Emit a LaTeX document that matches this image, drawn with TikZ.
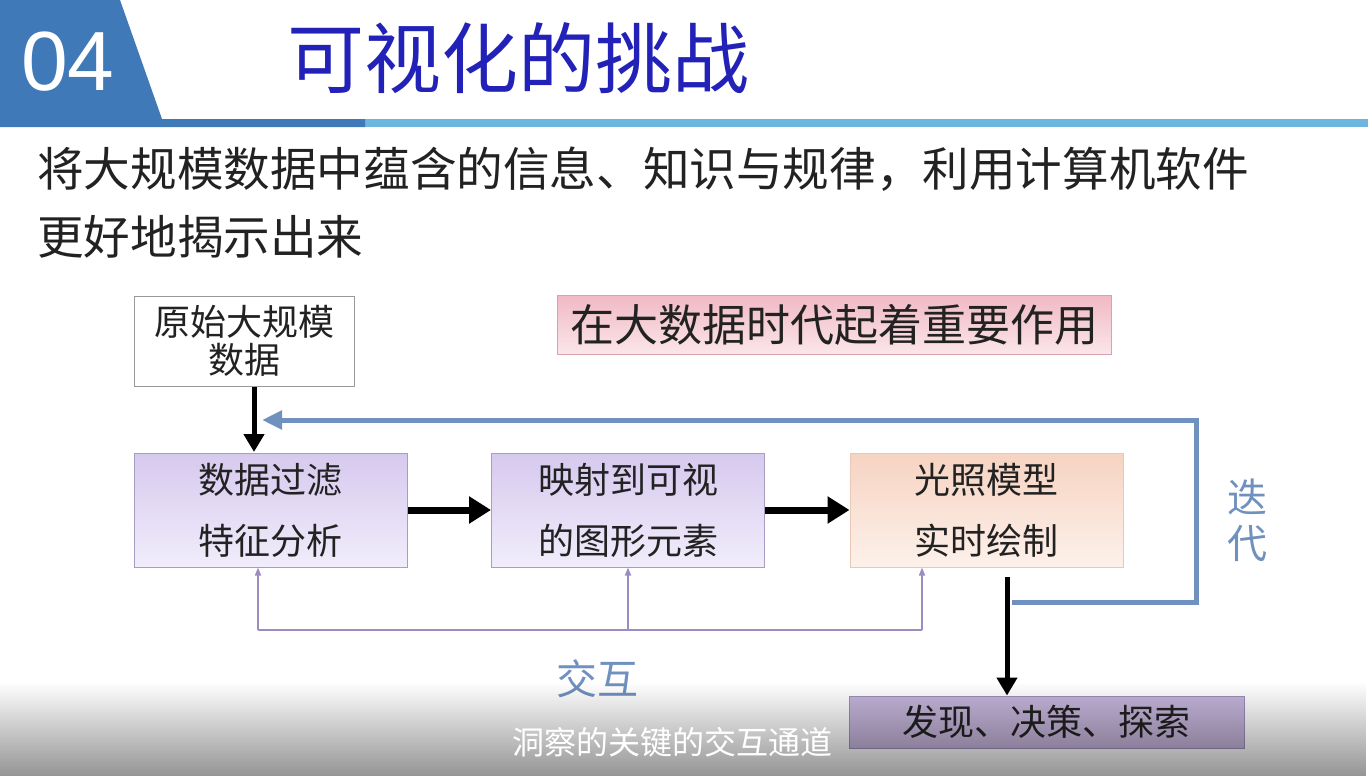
\documentclass[tikz,border=0pt]{standalone}
\usepackage{fontspec}
\setmainfont{Noto Sans CJK SC}
\newfontfamily\numfont{Liberation Sans}
\usetikzlibrary{arrows.meta,fadings}
\definecolor{hdrblue}{HTML}{3F79B8}
\definecolor{hdrlight}{HTML}{6CB6DF}
\definecolor{titleblue}{HTML}{2222B8}
\definecolor{loopblue}{HTML}{7090BE}
\definecolor{lavtop}{HTML}{D6C9EE}
\definecolor{lavbot}{HTML}{F1EDFB}
\definecolor{lavedge}{HTML}{A89CC6}
\definecolor{peachtop}{HTML}{F6D3C2}
\definecolor{peachbot}{HTML}{FDF1EA}
\definecolor{peachedge}{HTML}{EBC7B5}
\definecolor{pinktop}{HTML}{F0B9C4}
\definecolor{pinkbot}{HTML}{FBE6EA}
\definecolor{pinkedge}{HTML}{D8A3AE}
\definecolor{discfill}{HTML}{C6B6DC}
\definecolor{discedge}{HTML}{9E8FBA}
\definecolor{interline}{HTML}{9C8CC2}
\definecolor{textdark}{HTML}{222222}
\tikzset{
  x=1pt, y=-1pt,
  procbox/.style={draw=lavedge, line width=1pt, top color=lavtop, bottom color=lavbot, minimum width=273pt, minimum height=114pt, inner sep=0pt},
  bigarrow/.style={line width=7pt, -{Triangle[length=22pt,width=26pt]}},
  downarrow/.style={line width=5pt, -{Triangle[length=18pt,width=20pt]}},
  thinarrow/.style={interline, line width=1.6pt, -{Triangle[length=8pt,width=6pt]}},
  boxtext/.style={font=\fontsize{36}{61}\selectfont, text=textdark, align=center},
}
\begin{document}
\begin{tikzpicture}
\useasboundingbox (0,0) rectangle (1368,776);
\fill[white] (0,0) rectangle (1368,776);
% header
\fill[hdrlight] (365,119) rectangle (1368,127);
\fill[hdrblue] (0,0) -- (120,0) -- (162,119) -- (365,119) -- (365,127) -- (0,127) -- cycle;
\node[text=white, font=\numfont\fontsize{84}{86}\selectfont] (num) at (68,62) {04};
\node[text=titleblue, font=\fontsize{77}{80}\selectfont, anchor=west] (title) at (284,58) {可视化的挑战};
% body text
\node[text=textdark, font=\fontsize{46.6}{68}\selectfont, anchor=north west, align=left, inner sep=0pt] (body) at (37,147)
  {将大规模数据中蕴含的信息、知识与规律，利用计算机软件\\更好地揭示出来};
% boxes
\node[draw=gray!80, line width=1pt, fill=white, minimum width=220pt, minimum height=90pt, inner sep=0pt, boxtext, font=\fontsize{36}{38}\selectfont] (raw) at (244,341) {原始大规模\\数据};
\node[draw=pinkedge, line width=1pt, top color=pinktop, bottom color=pinkbot, minimum width=554pt, minimum height=59pt, inner sep=0pt, font=\fontsize{44}{46}\selectfont, text=textdark] (role) at (834,324.5) {在大数据时代起着重要作用};
\node[procbox, boxtext] (filt) at (270.5,510) {数据过滤\\特征分析};
\node[procbox, boxtext] (map) at (628,510) {映射到可视\\的图形元素};
\node[procbox, boxtext, draw=peachedge, top color=peachtop, bottom color=peachbot] (light) at (986.5,510) {光照模型\\实时绘制};
\node[draw=discedge, line width=1pt, fill=discfill, minimum width=395pt, minimum height=52pt, inner sep=0pt, font=\fontsize{36}{38}\selectfont, text=textdark] (disc) at (1046.5,722) {发现、决策、探索};
% main arrows
\draw[downarrow] (raw.south -| 254,0) -- (254,452) coordinate (rawin);
\draw[bigarrow] (filt.east) -- (map.west);
\draw[bigarrow] (map.east) -- (light.west);
\draw[downarrow] (1007,577) coordinate (lout) -- (disc.north -| 1007,0);
% iteration loop
\coordinate (loopstart) at (1012,602);
\coordinate (loopend) at (262,420);
\draw[loopblue, line width=5pt, -{Triangle[length=20pt,width=18pt]}] (loopstart) -- (1196,602) -- (1196,420) -- (loopend);
\node[text=loopblue, font=\fontsize{40}{46}\selectfont, align=center] (iter) at (1247,520) {迭\\代};
% interaction
\coordinate (ia) at (258,630);
\coordinate (ib) at (628,630);
\coordinate (ic) at (922,630);
\draw[interline, line width=1.6pt] (ia) -- (ic);
\draw[thinarrow] (ia) -- (filt.south -| ia);
\draw[thinarrow] (ib) -- (map.south -| ib);
\draw[thinarrow] (ic) -- (light.south -| ic);
\node[text=loopblue, font=\fontsize{41}{43}\selectfont] (inter) at (597,679) {交互};
% bottom overlay
\fill[black, opacity=0.42, path fading=north] (0,682) rectangle (1368,776);
\node[text=white, font=\fontsize{32}{34}\selectfont] (sub) at (672,742) {洞察的关键的交互通道};
\end{tikzpicture}
\end{document}
